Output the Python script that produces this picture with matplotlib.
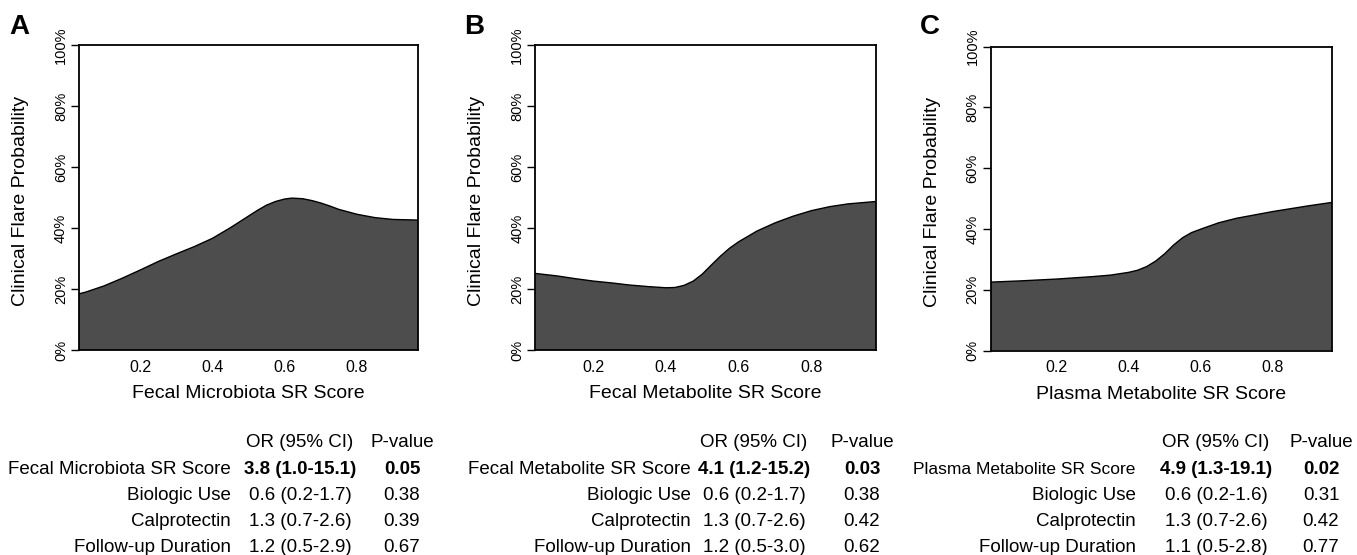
import matplotlib
matplotlib.use("Agg")
import matplotlib.pyplot as plt
import numpy as np

plt.rcParams['font.family'] = ['Liberation Sans', 'DejaVu Sans']

W, H = 1357, 555

# ---------------- data ----------------
panel_letters = ["A", "B", "C"]
x_labels = ["Fecal Microbiota SR Score", "Fecal Metabolite SR Score", "Plasma Metabolite SR Score"]
y_label = "Clinical Flare Probability"

xA = [0.031, 0.05, 0.10, 0.15, 0.20, 0.25, 0.30, 0.35, 0.40, 0.45, 0.50, 0.525, 0.55, 0.575,
      0.60, 0.62, 0.65, 0.675, 0.70, 0.725, 0.75, 0.80, 0.85, 0.90, 0.969]
yA = [18.4, 19.0, 21.0, 23.5, 26.2, 29.0, 31.5, 33.9, 36.6, 40.1, 43.9, 45.8, 47.5, 48.7,
      49.5, 49.8, 49.6, 49.0, 48.2, 47.2, 46.1, 44.5, 43.4, 42.8, 42.6]

xB = [0.041, 0.10, 0.15, 0.20, 0.25, 0.30, 0.35, 0.40, 0.425, 0.45, 0.475, 0.50, 0.525, 0.55,
      0.575, 0.60, 0.65, 0.70, 0.75, 0.80, 0.85, 0.90, 0.977]
yB = [25.1, 24.3, 23.4, 22.6, 22.0, 21.3, 20.8, 20.4, 20.5, 21.2, 22.6, 24.9, 27.9, 30.8,
      33.4, 35.5, 39.0, 41.7, 43.9, 45.7, 47.0, 47.9, 48.7]

xC = [0.017, 0.10, 0.20, 0.30, 0.35, 0.40, 0.425, 0.45, 0.475, 0.50, 0.525, 0.55, 0.575, 0.60,
      0.65, 0.70, 0.80, 0.90, 0.964]
yC = [22.5, 22.9, 23.5, 24.3, 24.8, 25.7, 26.4, 27.6, 29.4, 31.8, 34.7, 37.1, 38.8, 39.9,
      42.0, 43.5, 45.7, 47.6, 48.7]

x_ticks = [0.2, 0.4, 0.6, 0.8]
x_tick_labels = ["0.2", "0.4", "0.6", "0.8"]
y_ticks = [0, 20, 40, 60, 80, 100]
y_tick_labels = ["0%", "20%", "40%", "60%", "80%", "100%"]

table_header = ["OR (95% CI)", "P-value"]
row_labels_A = ["Fecal Microbiota SR Score", "Biologic Use", "Calprotectin", "Follow-up Duration"]
row_labels_B = ["Fecal Metabolite SR Score", "Biologic Use", "Calprotectin", "Follow-up Duration"]
row_labels_C = ["Plasma Metabolite SR Score", "Biologic Use", "Calprotectin", "Follow-up Duration"]
or_A = ["3.8 (1.0-15.1)", "0.6 (0.2-1.7)", "1.3 (0.7-2.6)", "1.2 (0.5-2.9)"]
or_B = ["4.1 (1.2-15.2)", "0.6 (0.2-1.7)", "1.3 (0.7-2.6)", "1.2 (0.5-3.0)"]
or_C = ["4.9 (1.3-19.1)", "0.6 (0.2-1.6)", "1.3 (0.7-2.6)", "1.1 (0.5-2.8)"]
p_A = ["0.05", "0.38", "0.39", "0.67"]
p_B = ["0.03", "0.38", "0.42", "0.62"]
p_C = ["0.02", "0.31", "0.42", "0.77"]

# ---------------- layout ----------------
fig = plt.figure(figsize=(W / 100, H / 100), dpi=100)

def fx(px):
    return px / W

def fy(py):
    return 1 - py / H

panels = [
    dict(box=(79, 45, 418, 350), xlim=(0.031, 0.969), x=xA, y=yA,
         letter_x=19, label_right=231, or_c=300, p_c=402, first_fs=13.5,
         rows=row_labels_A, ors=or_A, ps=p_A),
    dict(box=(535.3, 45, 876, 350), xlim=(0.041, 0.977), x=xB, y=yB,
         letter_x=474, label_right=690.7, or_c=754, p_c=862, first_fs=13.5,
         rows=row_labels_B, ors=or_B, ps=p_B),
    dict(box=(990.7, 46.5, 1331.7, 350.5), xlim=(0.017, 0.964), x=xC, y=yC,
         letter_x=930, label_right=1135.7, or_c=1216, p_c=1321, first_fs=12.5,
         rows=row_labels_C, ors=or_C, ps=p_C),
]

fill_color = "#4d4d4d"
table_fs = 13.5
row_baselines = [447, 474, 500.5, 526, 552]

for i, pnl in enumerate(panels):
    l, t, r, b = pnl["box"]
    ax = fig.add_axes([fx(l), fy(b), fx(r - l), (b - t) / H])
    ax.fill_between(pnl["x"], pnl["y"], 0, facecolor=fill_color, edgecolor="none", zorder=2)
    ax.plot(pnl["x"], pnl["y"], color="black", lw=1.0, zorder=3, solid_joinstyle="round")
    ax.set_xlim(*pnl["xlim"])
    ax.set_ylim(0, 100)
    ax.set_xticks(x_ticks)
    ax.set_xticklabels(x_tick_labels, fontsize=11.5)
    ax.set_yticks(y_ticks)
    ax.set_yticklabels(y_tick_labels, fontsize=10.5, rotation=90, va="center")
    ax.tick_params(axis="x", length=0, pad=7)
    ax.tick_params(axis="y", length=6, width=1, pad=2)
    for s in ax.spines.values():
        s.set_linewidth(1.3)
        s.set_color("black")
    ax.set_xlabel(x_labels[i], fontsize=14, labelpad=7.5)
    ax.set_ylabel(y_label, fontsize=14)
    ax.yaxis.set_label_coords(-50 / (r - l), 0.49)

    fig.text(fx(pnl["letter_x"]), fy(27), panel_letters[i], fontsize=20, fontweight="bold",
             ha="center", va="center")

    # table
    fig.text(fx(pnl["or_c"]), fy(row_baselines[0]), table_header[0], fontsize=table_fs,
             ha="center", va="baseline")
    fig.text(fx(pnl["p_c"]), fy(row_baselines[0]), table_header[1], fontsize=table_fs,
             ha="center", va="baseline")
    for j in range(4):
        wt = "bold" if j == 0 else "normal"
        yb = fy(row_baselines[j + 1])
        fs_lab = pnl["first_fs"] if j == 0 else table_fs
        fig.text(fx(pnl["label_right"]), yb, pnl["rows"][j], fontsize=fs_lab,
                 ha="right", va="baseline")
        fig.text(fx(pnl["or_c"]), yb, pnl["ors"][j], fontsize=table_fs, fontweight=wt,
                 ha="center", va="baseline")
        fig.text(fx(pnl["p_c"]), yb, pnl["ps"][j], fontsize=table_fs, fontweight=wt,
                 ha="center", va="baseline")

fig.savefig("out.png", dpi=100)
